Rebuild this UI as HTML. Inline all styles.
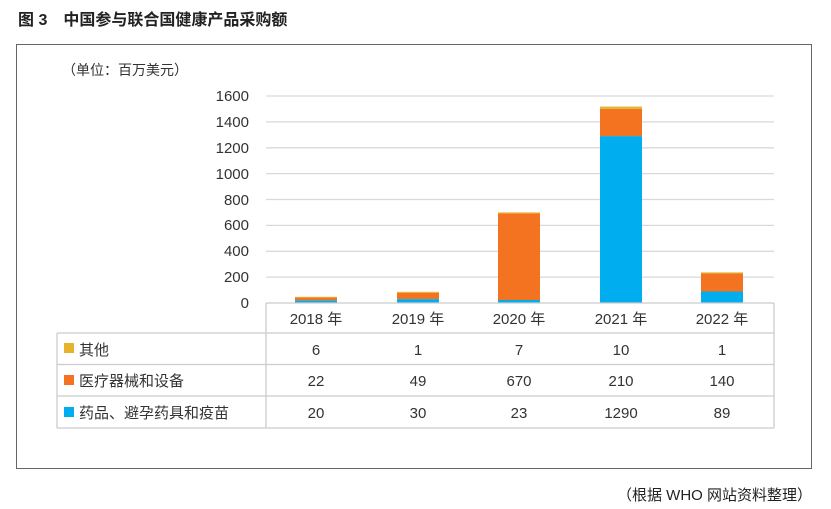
<!DOCTYPE html><html><head><meta charset="utf-8"><style>
body{margin:0;width:831px;height:509px;background:#fff;font-family:"Liberation Sans","Noto Sans CJK SC",sans-serif;color:#222;position:relative;overflow:hidden}
.a{position:absolute}
</style></head><body>
<div class="a" style="left:18px;top:6px;font-size:16px;font-weight:bold;color:#222">图 3　中国参与联合国健康产品采购额</div>
<div class="a" style="left:16px;top:44px;width:796px;height:425px;border:1.5px solid #666;box-sizing:border-box"></div>
<div class="a" style="left:812px;top:484px;font-size:15px;transform:translateX(-100%);white-space:nowrap">（根据 WHO 网站资料整理）</div>
<svg class="a" style="left:0;top:0" width="831" height="509" font-family="Liberation Sans, Noto Sans CJK SC, sans-serif">
<g stroke="#d9d9d9" stroke-width="1.3">
<line x1="266" x2="774" y1="96" y2="96"/><line x1="266" x2="774" y1="121.9" y2="121.9"/><line x1="266" x2="774" y1="147.8" y2="147.8"/><line x1="266" x2="774" y1="173.6" y2="173.6"/><line x1="266" x2="774" y1="199.5" y2="199.5"/><line x1="266" x2="774" y1="225.4" y2="225.4"/><line x1="266" x2="774" y1="251.3" y2="251.3"/><line x1="266" x2="774" y1="277.1" y2="277.1"/>
</g>
<g font-size="15" fill="#333" text-anchor="end">
<text x="249" y="101">1600</text><text x="249" y="127">1400</text><text x="249" y="153">1200</text><text x="249" y="179">1000</text><text x="249" y="205">800</text><text x="249" y="230">600</text><text x="249" y="256">400</text><text x="249" y="282">200</text><text x="249" y="308">0</text>
</g>
<text x="62" y="75" font-size="14" fill="#333">（单位：百万美元）</text>
<g>
<rect x="295" y="300.4" width="42" height="2.6" fill="#00aeef"/><rect x="295" y="297.6" width="42" height="2.8" fill="#f47321"/><rect x="295" y="296.8" width="42" height="0.8" fill="#e6b32a"/>
<rect x="397" y="299.1" width="42" height="3.9" fill="#00aeef"/><rect x="397" y="292.8" width="42" height="6.3" fill="#f47321"/><rect x="397" y="291.8" width="42" height="1" fill="#e6b32a"/>
<rect x="498" y="300" width="42" height="3" fill="#00aeef"/><rect x="498" y="213.3" width="42" height="86.7" fill="#f47321"/><rect x="498" y="212.4" width="42" height="0.9" fill="#e6b32a"/>
<rect x="600" y="136.1" width="42" height="166.9" fill="#00aeef"/><rect x="600" y="108.9" width="42" height="27.2" fill="#f47321"/><rect x="600" y="106.6" width="42" height="2.3" fill="#e6b32a"/>
<rect x="701" y="291.5" width="42" height="11.5" fill="#00aeef"/><rect x="701" y="273.4" width="42" height="18.1" fill="#f47321"/><rect x="701" y="272.4" width="42" height="1" fill="#e6b32a"/>
</g>
<g stroke="#ccc" stroke-width="1.3" fill="none">
<line x1="266" y1="303" x2="774" y2="303"/>
<line x1="57" y1="333" x2="774" y2="333"/><line x1="57" y1="364.5" x2="774" y2="364.5"/><line x1="57" y1="396" x2="774" y2="396"/><line x1="57" y1="428" x2="774" y2="428"/>
<line x1="57" y1="333" x2="57" y2="428"/><line x1="266" y1="303" x2="266" y2="428"/><line x1="774" y1="303" x2="774" y2="428"/>
</g>
<g font-size="15" fill="#333" text-anchor="middle">
<text x="316" y="324">2018 年</text><text x="418" y="324">2019 年</text><text x="519" y="324">2020 年</text><text x="621" y="324">2021 年</text><text x="722" y="324">2022 年</text>
<text x="316" y="355">6</text><text x="418" y="355">1</text><text x="519" y="355">7</text><text x="621" y="355">10</text><text x="722" y="355">1</text>
<text x="316" y="386">22</text><text x="418" y="386">49</text><text x="519" y="386">670</text><text x="621" y="386">210</text><text x="722" y="386">140</text>
<text x="316" y="418">20</text><text x="418" y="418">30</text><text x="519" y="418">23</text><text x="621" y="418">1290</text><text x="722" y="418">89</text>
</g>
<rect x="64" y="343" width="10" height="10" fill="#e6b32a"/>
<rect x="64" y="375" width="10" height="10" fill="#f47321"/>
<rect x="64" y="407" width="10" height="10" fill="#00aeef"/>
<g font-size="15" fill="#333">
<text x="79" y="355">其他</text><text x="79" y="386">医疗器械和设备</text><text x="79" y="418">药品、避孕药具和疫苗</text>
</g>
</svg>
</body></html>
